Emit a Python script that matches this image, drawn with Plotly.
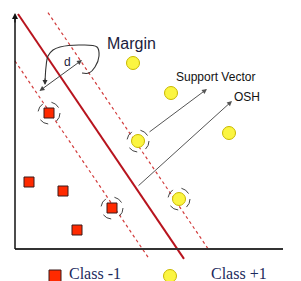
import plotly.graph_objects as go

# Data coordinates: origin at the axes corner, 1 unit ~ 1 pixel
class_neg_x = [34, 14, 48, 97, 62]
class_neg_y = [136, 67, 58, 41, 19]
class_pos_x = [118, 156, 214, 123, 164]
class_pos_y = [186, 156, 116, 108, 50]
support_x = [34, 97, 123, 164]
support_y = [136, 41, 108, 50]

slope = -1.475
osh_intercept = 239.4
margin_low_intercept = 188
margin_high_intercept = 285

osh_x = [3, 169]
margin_low_x = [0, 133]
margin_high_x = [33, 193]

loop_x = [30, 31, 33, 38, 45, 65, 82, 84, 80, 74, 67]
loop_y = [166, 182, 193, 199, 202, 204, 202, 193, 182, 176, 176]

legend_labels = ["Class -1", "Class +1"]

def line_y(xs, b):
    return [b + slope * x for x in xs]

fig = go.Figure()

fig.add_trace(go.Scatter(x=margin_low_x, y=line_y(margin_low_x, margin_low_intercept),
                         mode="lines", line=dict(color="#d23c3c", width=1.2, dash="dot"),
                         hoverinfo="skip"))
fig.add_trace(go.Scatter(x=margin_high_x, y=line_y(margin_high_x, margin_high_intercept),
                         mode="lines", line=dict(color="#d23c3c", width=1.2, dash="dot"),
                         hoverinfo="skip"))
fig.add_trace(go.Scatter(x=osh_x, y=line_y(osh_x, osh_intercept),
                         mode="lines", line=dict(color="#b8141e", width=2),
                         hoverinfo="skip"))
fig.add_trace(go.Scatter(x=loop_x, y=loop_y, mode="lines",
                         line=dict(color="#333333", width=1.1, shape="spline"),
                         hoverinfo="skip"))

fig.add_trace(go.Scatter(x=class_neg_x, y=class_neg_y, mode="markers",
                         marker=dict(symbol="square", size=10, color="#ff2a00",
                                     line=dict(color="#3a1a1a", width=1))))
fig.add_trace(go.Scatter(x=class_pos_x, y=class_pos_y, mode="markers",
                         marker=dict(symbol="circle", size=13, color="#fbf541",
                                     line=dict(color="#c9b800", width=1))))

shapes = []
r = 11
for sx, sy in zip(support_x, support_y):
    shapes.append(dict(type="circle", xref="x", yref="y", x0=sx - r, x1=sx + r,
                       y0=sy - r, y1=sy + r, line=dict(color="#444444", width=1, dash="dash")))
# axes
shapes.append(dict(type="line", xref="x", yref="y", x0=0, x1=268, y0=0, y1=0,
                   line=dict(color="#333333", width=2)))
shapes.append(dict(type="line", xref="x", yref="y", x0=0, x1=0, y0=0, y1=232,
                   line=dict(color="#111111", width=1.5)))

ann = []
# y-axis arrow head
ann.append(dict(x=0, y=236, ax=0, ay=225, xref="x", yref="y", axref="x", ayref="y",
                text="", showarrow=True, arrowhead=2, arrowsize=1, arrowwidth=1.2, arrowcolor="#111"))
# d double arrow
ann.append(dict(x=67, y=189, ax=23, ay=157, xref="x", yref="y", axref="x", ayref="y",
                text="", showarrow=True, arrowhead=2, startarrowhead=2, arrowside="end+start",
                arrowsize=1, arrowwidth=1, arrowcolor="#444"))
# loop arrow head
ann.append(dict(x=30, y=164, ax=30, ay=172, xref="x", yref="y", axref="x", ayref="y",
                text="", showarrow=True, arrowhead=2, arrowsize=1, arrowwidth=1, arrowcolor="#333"))
# support vector arrow
ann.append(dict(x=192, y=160, ax=133, ay=116, xref="x", yref="y", axref="x", ayref="y",
                text="", showarrow=True, arrowhead=2, arrowsize=1, arrowwidth=1, arrowcolor="#555"))
# OSH arrow
ann.append(dict(x=217, y=148, ax=122, ay=62, xref="x", yref="y", axref="x", ayref="y",
                text="", showarrow=True, arrowhead=2, arrowsize=1, arrowwidth=1, arrowcolor="#555"))

sans = "Liberation Sans, Arial, sans-serif"
serif = "Liberation Serif, Times New Roman, serif"
ann.append(dict(x=90, y=206, xref="x", yref="y", text="Margin", showarrow=False,
                xanchor="left", yanchor="middle", font=dict(family=sans, size=16, color="#1c1c3c")))
ann.append(dict(x=52, y=187, xref="x", yref="y", text="d", showarrow=False,
                xanchor="center", yanchor="middle", font=dict(family=sans, size=12, color="#1c1c3c")))
ann.append(dict(x=159, y=172, xref="x", yref="y", text="Support Vector", showarrow=False,
                xanchor="left", yanchor="middle", font=dict(family=sans, size=12, color="#111")))
ann.append(dict(x=217, y=152, xref="x", yref="y", text="OSH", showarrow=False,
                xanchor="left", yanchor="middle", font=dict(family=sans, size=12, color="#111")))

fig.add_trace(go.Scatter(x=[40], y=[-27], mode="markers",
                         marker=dict(symbol="square", size=12, color="#ff2a00",
                                     line=dict(color="#3a1a1a", width=1))))
fig.add_trace(go.Scatter(x=[155], y=[-27], mode="markers",
                         marker=dict(symbol="circle", size=13, color="#fbf541",
                                     line=dict(color="#c9b800", width=1))))
ann.append(dict(x=52, y=-24, xref="x", yref="y", text=legend_labels[0], showarrow=False,
                xanchor="left", yanchor="middle", font=dict(family=serif, size=16, color="#1c2a5c")))
ann.append(dict(x=194, y=-24, xref="x", yref="y", text=legend_labels[1], showarrow=False,
                xanchor="left", yanchor="middle", font=dict(family=serif, size=16, color="#1c2a5c")))

fig.update_layout(width=301, height=281, margin=dict(l=0, r=0, t=0, b=0),
                  paper_bgcolor="white", plot_bgcolor="white", showlegend=False,
                  shapes=shapes, annotations=ann)
fig.update_xaxes(range=[-15, 286], visible=False, fixedrange=True)
fig.update_yaxes(range=[-32, 249], visible=False, fixedrange=True)
fig.write_html("out.html", config={"displayModeBar": False},
               post_script="document.body.style.margin='0';document.body.style.overflow='hidden';")
